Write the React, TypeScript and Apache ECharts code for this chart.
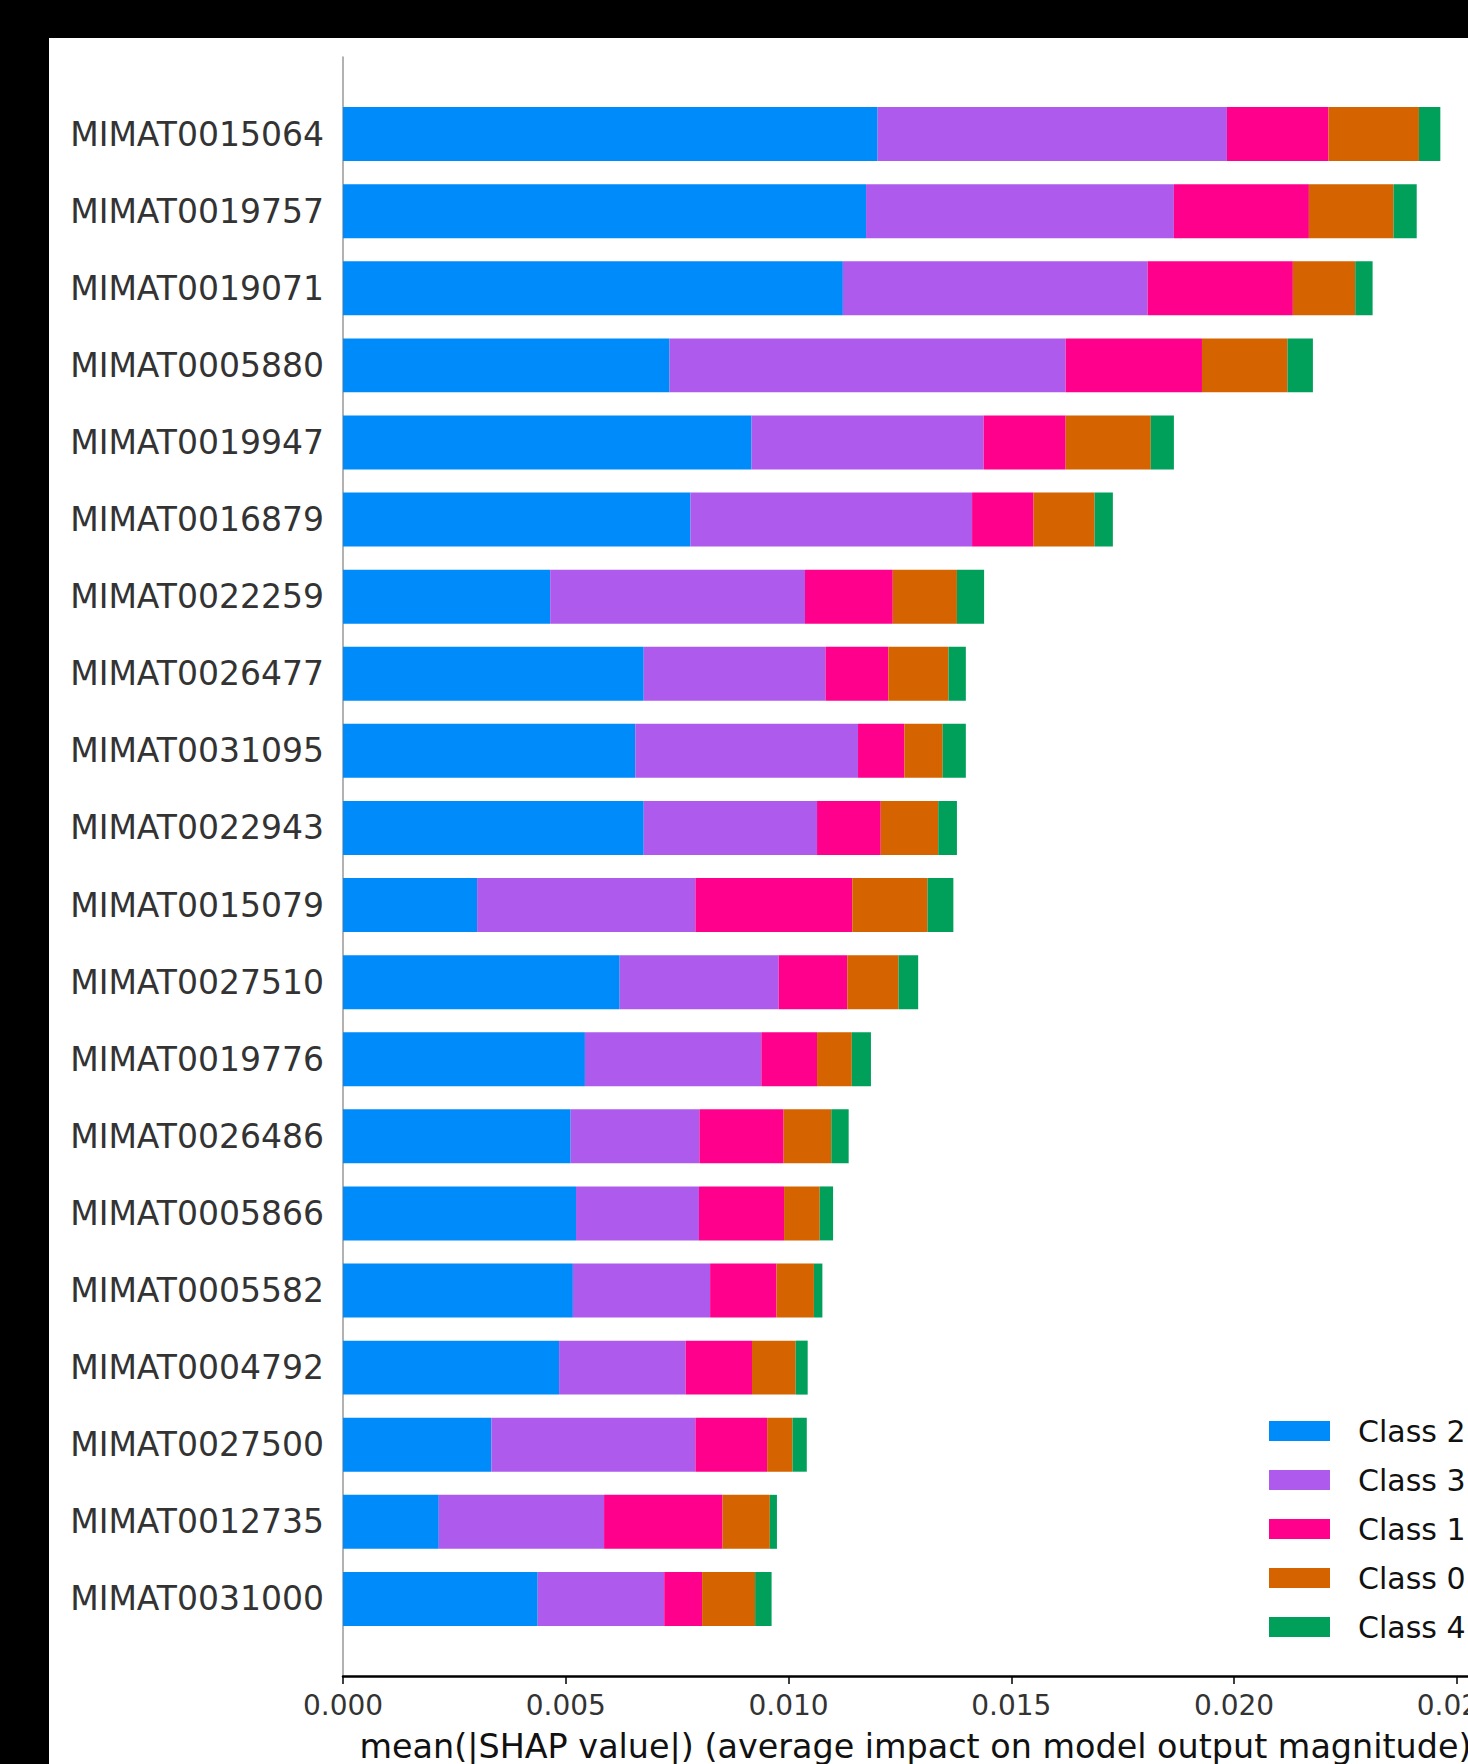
import React, { useEffect, useRef } from 'react';
import * as echarts from 'echarts';

// Features, ordered from the largest to the smallest total mean |SHAP|
const features = [
  'MIMAT0015064', 'MIMAT0019757', 'MIMAT0019071', 'MIMAT0005880', 'MIMAT0019947',
  'MIMAT0016879', 'MIMAT0022259', 'MIMAT0026477', 'MIMAT0031095', 'MIMAT0022943',
  'MIMAT0015079', 'MIMAT0027510', 'MIMAT0019776', 'MIMAT0026486', 'MIMAT0005866',
  'MIMAT0005582', 'MIMAT0004792', 'MIMAT0027500', 'MIMAT0012735', 'MIMAT0031000',
];

// mean(|SHAP value|) per class, in the same feature order
const class2 = [0.01200, 0.01174, 0.01122, 0.00733, 0.00917, 0.00780, 0.00465, 0.00675, 0.00656, 0.00675,
  0.00301, 0.00621, 0.00543, 0.00511, 0.00523, 0.00516, 0.00485, 0.00333, 0.00215, 0.00437];
const class3 = [0.00784, 0.00691, 0.00684, 0.00889, 0.00521, 0.00632, 0.00572, 0.00408, 0.00500, 0.00389,
  0.00490, 0.00357, 0.00396, 0.00289, 0.00276, 0.00308, 0.00284, 0.00458, 0.00371, 0.00284];
const class1 = [0.00228, 0.00303, 0.00326, 0.00306, 0.00184, 0.00138, 0.00197, 0.00141, 0.00104, 0.00143,
  0.00352, 0.00154, 0.00125, 0.00189, 0.00191, 0.00149, 0.00149, 0.00161, 0.00266, 0.00085];
const class0 = [0.00203, 0.00190, 0.00140, 0.00192, 0.00191, 0.00137, 0.00144, 0.00135, 0.00086, 0.00129,
  0.00169, 0.00115, 0.00078, 0.00107, 0.00080, 0.00084, 0.00098, 0.00057, 0.00106, 0.00119];
const class4 = [0.00048, 0.00052, 0.00039, 0.00057, 0.00052, 0.00041, 0.00061, 0.00039, 0.00052, 0.00042,
  0.00058, 0.00044, 0.00043, 0.00039, 0.00030, 0.00019, 0.00027, 0.00032, 0.00016, 0.00037];

const classNames = ['Class 2', 'Class 3', 'Class 1', 'Class 0', 'Class 4'];
const classColors = ['#008bfb', '#ae5bed', '#ff008c', '#d46300', '#00a05a'];
const classValues = [class2, class3, class1, class0, class4];

const xTicks = { min: 0, max: 0.0257, interval: 0.005 };
const xLabel = 'mean(|SHAP value|) (average impact on model output magnitude)';

const FONT = 'DejaVu Sans';

export default function App() {
  const ref = useRef<HTMLDivElement>(null);

  useEffect(() => {
    if (!ref.current) return;
    const chart = echarts.init(ref.current, undefined, { renderer: 'svg' });

    // one empty slot above and below the rows gives the axis its margin
    const yCats = ['', ...features, ''];

    const series = classNames.map((name, i) => ({
      name,
      type: 'bar',
      stack: 'total',
      barWidth: '70%',
      data: [null, ...classValues[i], null],
      itemStyle: { color: classColors[i] },
      emphasis: { disabled: true },
    }));

    chart.setOption({
      animation: false,
      backgroundColor: 'transparent',
      textStyle: { fontFamily: FONT },
      grid: { left: 343, top: 57, width: 1145, height: 1619, containLabel: false, outerBoundsMode: 'none' },
      xAxis: {
        type: 'value',
        min: xTicks.min,
        max: xTicks.max,
        interval: xTicks.interval,
        splitLine: { show: false },
        axisLine: { show: true, lineStyle: { color: '#000', width: 2.5 } },
        axisTick: { show: true, length: 8, lineStyle: { color: '#000', width: 1.5 } },
        axisLabel: {
          fontSize: 28,
          fontFamily: FONT,
          color: '#333',
          margin: 15,
          // the axis end is not a tick step; keep the 0.025 label instead
          showMaxLabel: false,
          formatter: (v: number) => v.toFixed(3),
        },
        name: xLabel,
        nameLocation: 'middle',
        nameGap: 54,
        nameTextStyle: { fontSize: 33.4, fontFamily: FONT, color: '#111' },
      },
      yAxis: {
        type: 'category',
        inverse: true,
        boundaryGap: false,
        data: yCats,
        axisLine: { show: true, lineStyle: { color: '#999', width: 1.5 } },
        axisTick: { show: false },
        splitLine: { show: false },
        axisLabel: { interval: 0, fontSize: 33, fontFamily: FONT, color: '#333', margin: 19 },
      },
      legend: {
        orient: 'vertical',
        left: 1264,
        top: 1411,
        itemWidth: 61,
        itemHeight: 20,
        itemGap: 19,
        icon: 'rect',
        selectedMode: false,
        itemStyle: { borderWidth: 0 },
        textStyle: { fontSize: 30, lineHeight: 30, fontFamily: FONT, color: '#111', padding: [0, 0, 0, 23] },
        data: classNames,
      },
      series,
    });

    return () => chart.dispose();
  }, []);

  return (
    <div style={{ position: 'absolute', left: 0, top: 0, width: 1468, height: 1764, background: '#000', overflow: 'hidden' }}>
      <div style={{ position: 'absolute', left: 49, top: 38, right: 0, bottom: 0, background: '#fff' }} />
      <div ref={ref} style={{ position: 'absolute', left: 0, top: 0, width: 1468, height: 1764 }} />
    </div>
  );
}
